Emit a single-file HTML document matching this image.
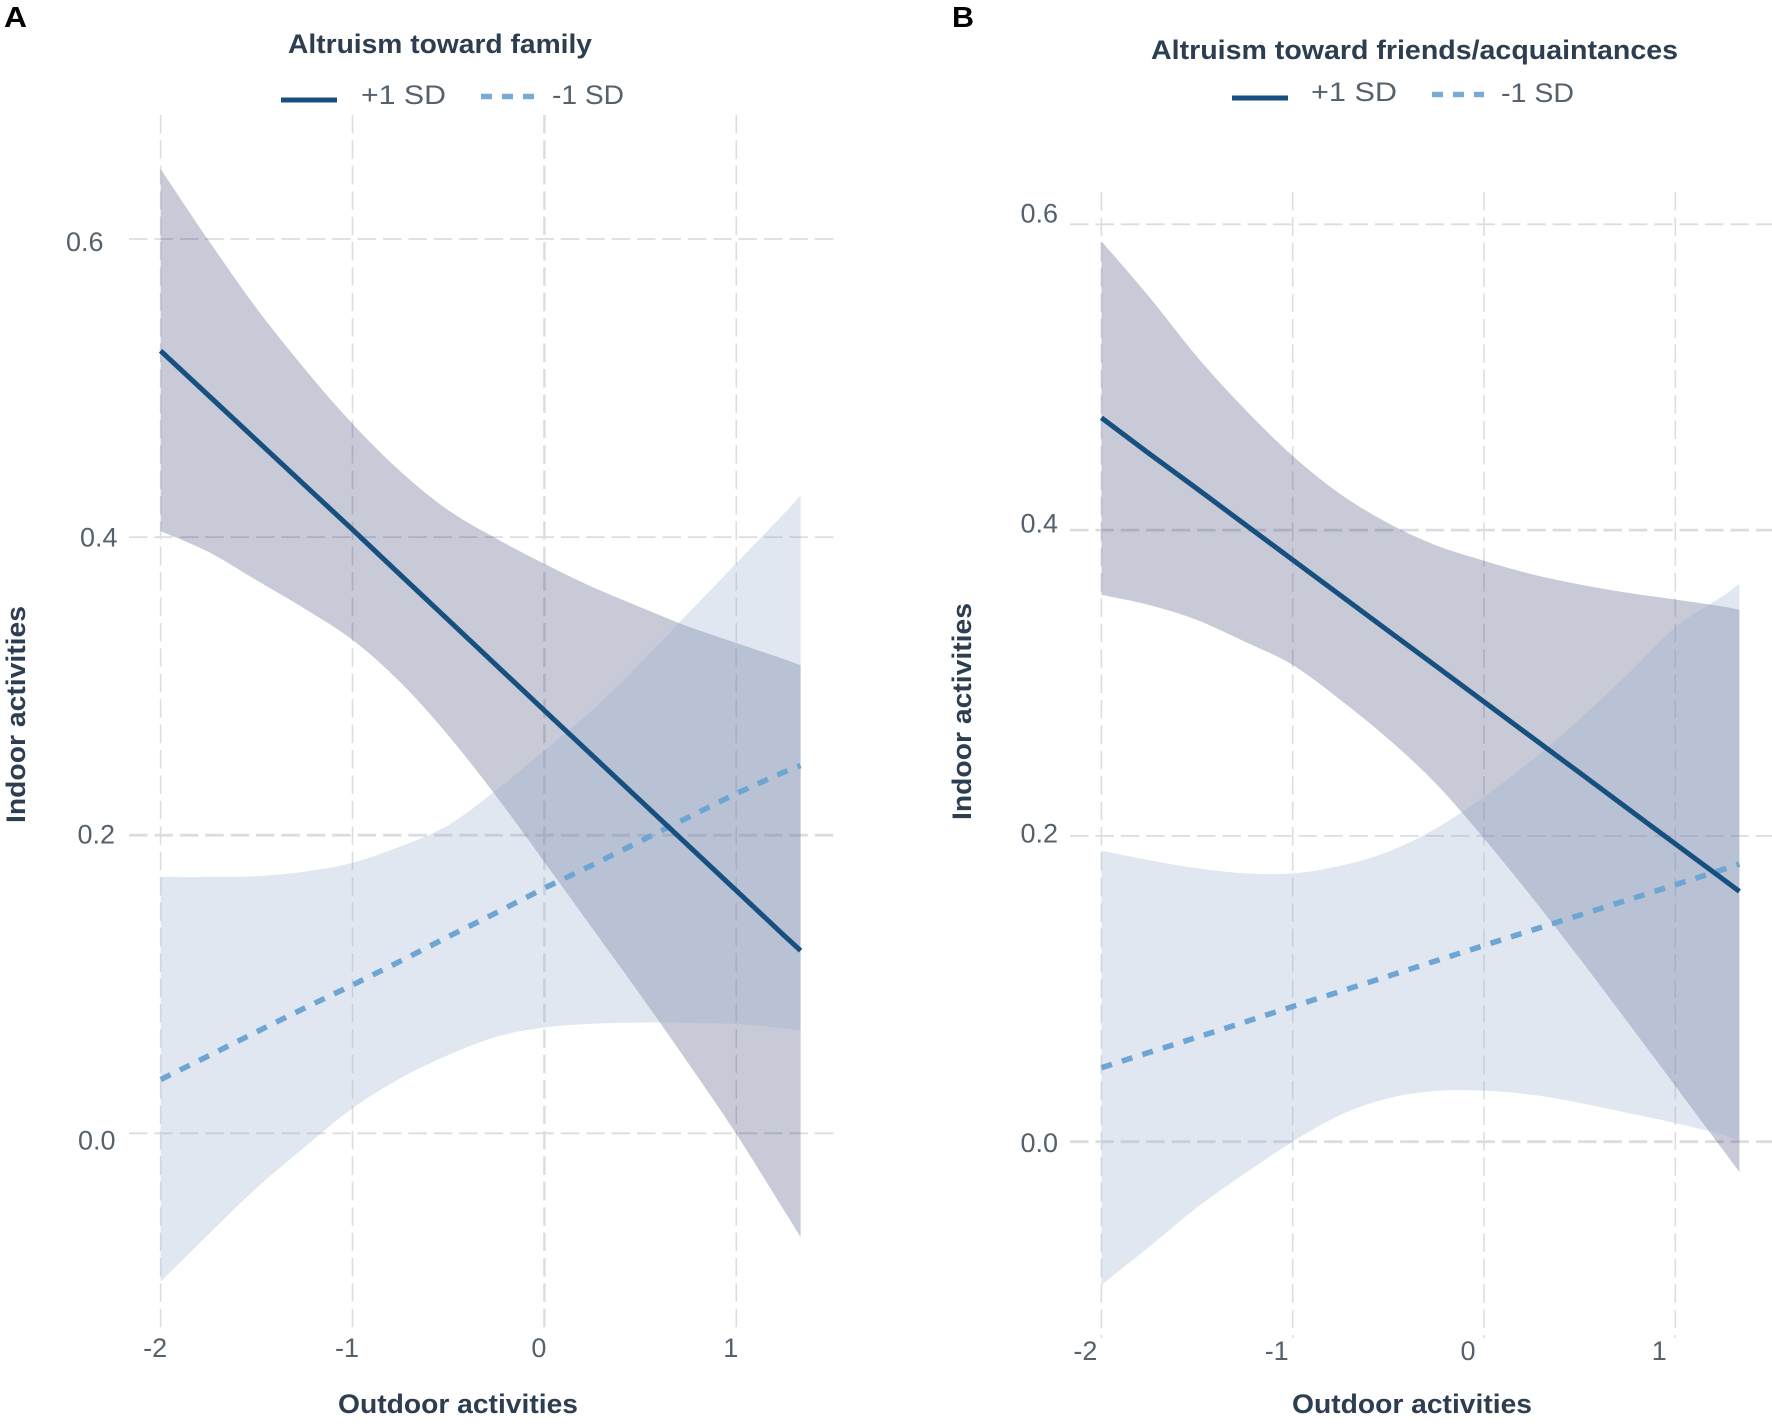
<!DOCTYPE html>
<html>
<head>
<meta charset="utf-8">
<title>Altruism moderation plots</title>
<style>
html,body{margin:0;padding:0;background:#fff;}
svg{display:block;}
text{font-family:"Liberation Sans",sans-serif;}
.title,.axis-title{font-weight:bold;fill:#2c3e50;font-size:27px;}
.tick,.legend-text{fill:#55616d;font-size:27px;}
.letter{font-weight:bold;fill:#000;font-size:29px;}
</style>
</head>
<body>
<svg id="fig" width="1772" height="1425" viewBox="0 0 1772 1425" xmlns="http://www.w3.org/2000/svg">
  <rect x="0" y="0" width="1772" height="1425" fill="#fff"/>
  <g id="panelA"></g>
  <g id="panelB"></g>

  <text class="letter" x="4" y="27" textLength="23" lengthAdjust="spacingAndGlyphs">A</text>
  <text class="letter" x="952" y="27" textLength="22" lengthAdjust="spacingAndGlyphs">B</text>

  <text class="title" x="288" y="53" textLength="304" lengthAdjust="spacingAndGlyphs">Altruism toward family</text>
  <text class="title" x="1151" y="59" textLength="527" lengthAdjust="spacingAndGlyphs">Altruism toward friends/acquaintances</text>

  <g>
    <line x1="281" y1="100" x2="337" y2="100" stroke="#17507f" stroke-width="5"/>
    <text class="legend-text" x="361" y="104" textLength="85" lengthAdjust="spacingAndGlyphs">+1 SD</text>
    <line x1="481" y1="96.5" x2="534" y2="96.5" stroke="#7aaad3" stroke-width="5.5" stroke-dasharray="11 10"/>
    <text class="legend-text" x="552" y="104" textLength="72" lengthAdjust="spacingAndGlyphs">-1 SD</text>
  </g>
  <g>
    <line x1="1232" y1="98" x2="1288" y2="98" stroke="#17507f" stroke-width="5"/>
    <text class="legend-text" x="1311" y="101" textLength="86" lengthAdjust="spacingAndGlyphs">+1 SD</text>
    <line x1="1432" y1="94.5" x2="1484" y2="94.5" stroke="#7aaad3" stroke-width="5.5" stroke-dasharray="11 10"/>
    <text class="legend-text" x="1501" y="102" textLength="73" lengthAdjust="spacingAndGlyphs">-1 SD</text>
  </g>

  <text class="axis-title" x="338" y="1413" textLength="240" lengthAdjust="spacingAndGlyphs">Outdoor activities</text>
  <text class="axis-title" x="1292" y="1413" textLength="240" lengthAdjust="spacingAndGlyphs">Outdoor activities</text>
  <text class="axis-title" transform="translate(25,823) rotate(-90)" textLength="217" lengthAdjust="spacingAndGlyphs">Indoor activities</text>
  <text class="axis-title" transform="translate(971,820) rotate(-90)" textLength="217" lengthAdjust="spacingAndGlyphs">Indoor activities</text>
</svg>
<script>
const xValues = [-2,-1.75,-1.5,-1.25,-1,-0.75,-0.5,-0.25,0,0.25,0.5,0.75,1,1.25,1.335];
const xTickValues = [-2,-1,0,1];
const yTickValues = [0.6,0.4,0.2,0.0];
const yTickLabels = ["0.6","0.4","0.2","0.0"];

const familyPlusLine  = [.525,.495,.465,.435,.405,.3746,.3443,.314,.2836,.2534,.2232,.193,.1628,.1326,.1226];
const familyPlusUpper = [.647,.599,.5535,.513,.476,.444,.418,.399,.382,.3665,.353,.340,.329,.318,.314];
const familyPlusLower = [.404,.390,.371,.352,.331,.3025,.2668,.226,.182,.1374,.0928,.047,-.0005,-.052,-.0696];
const familyMinusLine  = [.036,.052,.068,.084,.0995,.1155,.132,.148,.1645,.180,.196,.212,.228,.2425,.2467];
const familyMinusUpper = [.172,.172,.1725,.1755,.1815,.1925,.2068,.2303,.257,.284,.3155,.349,.3825,.416,.428];
const familyMinusLower = [-.0995,-.0677,-.0367,-.0093,.0168,.037,.0525,.0648,.071,.0735,.0743,.0742,.0733,.0705,.0691];

const friendsPlusLine  = [.4735,.450,.4271,.4037,.3805,.3573,.3341,.311,.2877,.2645,.2413,.218,.1948,.1716,.1637];
const friendsPlusUpper = [.589,.5525,.5134,.479,.4485,.4235,.4045,.390,.380,.3711,.3644,.359,.3546,.350,.3479];
const friendsPlusLower = [.3576,.351,.3412,.327,.3118,.2889,.2634,.234,.1983,.160,.1198,.0783,.0364,-.0055,-.0198];
const friendsMinusLine  = [.0484,.0584,.0683,.0783,.0884,.0983,.1083,.1183,.1283,.1383,.1482,.1581,.168,.178,.1816];
const friendsMinusUpper = [.1903,.1842,.1788,.1755,.1755,.1805,.1897,.205,.2256,.2496,.2764,.3057,.3364,.357,.365];
const friendsMinusLower = [-.0937,-.0687,-.043,-.0207,0,.0175,.0284,.0332,.0334,.0307,.0254,.0188,.0122,.0045,0];

const NS = 'http://www.w3.org/2000/svg';

// Smooth curve through screen points (Catmull-Rom to cubic Bezier); returns path segments after the first point.
function smoothSegments(pts) {
  let d = '';
  for (let i = 0; i < pts.length - 1; i++) {
    const p0 = pts[Math.max(i - 1, 0)];
    const p1 = pts[i];
    const p2 = pts[i + 1];
    const p3 = pts[Math.min(i + 2, pts.length - 1)];
    const c1x = p1[0] + (p2[0] - p0[0]) / 6;
    const c1y = p1[1] + (p2[1] - p0[1]) / 6;
    const c2x = p2[0] - (p3[0] - p1[0]) / 6;
    const c2y = p2[1] - (p3[1] - p1[1]) / 6;
    d += ' C' + c1x.toFixed(1) + ' ' + c1y.toFixed(1) + ' ' + c2x.toFixed(1) + ' ' + c2y.toFixed(1) + ' ' + p2[0].toFixed(1) + ' ' + p2[1].toFixed(1);
  }
  return d;
}

function drawPanel(cfg) {
  const root = document.getElementById(cfg.id);
  const sx = v => cfg.x0 + cfg.xStep * v;
  const sy = v => cfg.y0 - cfg.yScale * v;

  xTickValues.forEach(function (v) {
    const g = document.createElementNS(NS, 'line');
    
    
    g.setAttribute('x1', sx(v));
    g.setAttribute('x2', sx(v));
    g.setAttribute('y1', cfg.gridTop);
    g.setAttribute('y2', cfg.gridBottom);
    g.setAttribute('stroke', '#dcdde0');
    g.setAttribute('stroke-width', cfg.boldX.indexOf(v) >= 0 ? 2.5 : 1.6);
    g.setAttribute('stroke-dasharray', '18.5 6.9');
    root.appendChild(g);
  });
  yTickValues.forEach(function (v) {
    const g = document.createElementNS(NS, 'line');
    
    
    g.setAttribute('x1', cfg.gridLeft);
    g.setAttribute('x2', cfg.gridRight);
    g.setAttribute('y1', sy(v));
    g.setAttribute('y2', sy(v));
    g.setAttribute('stroke', '#dcdde0');
    g.setAttribute('stroke-width', cfg.boldY.indexOf(v) >= 0 ? 2.8 : 1.8);
    g.setAttribute('stroke-dasharray', '18.5 6.9');
    root.appendChild(g);
  });

  function ribbon(upper, lower, fill, name) {
    const top = xValues.map(function (x, i) { return [sx(x), sy(upper[i])]; });
    const bottom = xValues.map(function (x, i) { return [sx(x), sy(lower[i])]; }).reverse();
    const p = document.createElementNS(NS, 'path');
    
    
    p.setAttribute('d', 'M' + top[0][0].toFixed(1) + ' ' + top[0][1].toFixed(1) + smoothSegments(top) +
      ' L' + bottom[0][0].toFixed(1) + ' ' + bottom[0][1].toFixed(1) + smoothSegments(bottom) + ' Z');
    p.setAttribute('fill', fill);
    root.appendChild(p);
  }
  ribbon(cfg.plusUpper, cfg.plusLower, 'rgba(35,43,99,0.25)', 'ci-ribbon-plus-1sd');
  ribbon(cfg.minusUpper, cfg.minusLower, 'rgba(152,175,205,0.3)', 'ci-ribbon-minus-1sd');

  function seriesLine(vals, stroke, dash, name) {
    const p = document.createElementNS(NS, 'polyline');
    
    
    p.setAttribute('points', xValues.map(function (x, i) { return sx(x).toFixed(1) + ',' + sy(vals[i]).toFixed(1); }).join(' '));
    p.setAttribute('fill', 'none');
    p.setAttribute('stroke', stroke);
    p.setAttribute('stroke-width', dash ? '5.5' : '5');
    if (dash) { p.setAttribute('stroke-dasharray', dash); }
    root.appendChild(p);
  }
  seriesLine(cfg.minusLine, '#6fa5d2', '11 10.5', 'line-minus-1sd');
  seriesLine(cfg.plusLine, '#17507f', null, 'line-plus-1sd');

  xTickValues.forEach(function (v) {
    const t = document.createElementNS(NS, 'text');
    
    
    t.setAttribute('class', 'tick');
    t.setAttribute('x', sx(v) + cfg.xLabelShift);
    t.setAttribute('y', cfg.xLabelBaseline);
    t.setAttribute('text-anchor', 'middle');
    t.textContent = String(v);
    root.appendChild(t);
  });
  yTickValues.forEach(function (v, i) {
    const t = document.createElementNS(NS, 'text');
    
    
    t.setAttribute('class', 'tick');
    t.setAttribute('x', cfg.yLabelRight[i]);
    t.setAttribute('y', sy(v) + cfg.yLabelDrop[i]);
    t.setAttribute('text-anchor', 'end');
    t.textContent = yTickLabels[i];
    root.appendChild(t);
  });
}

drawPanel({
  id: 'panelA', x0: 544.4, xStep: 191.9, y0: 1133.3, yScale: 1490.5,
  gridTop: 115, gridBottom: 1332, gridLeft: 129, gridRight: 834,
  boldX: [0], boldY: [0.2],
  xLabelShift: -5.5, xLabelBaseline: 1357,
  yLabelRight: [103.5, 117.5, 115, 115.5], yLabelDrop: [12, 9.3, 8.5, 16],
  plusLine: familyPlusLine, plusUpper: familyPlusUpper, plusLower: familyPlusLower,
  minusLine: familyMinusLine, minusUpper: familyMinusUpper, minusLower: familyMinusLower
});
drawPanel({
  id: 'panelB', x0: 1484, xStep: 191.3, y0: 1141.7, yScale: 1529,
  gridTop: 192, gridBottom: 1338, gridLeft: 1070, gridRight: 1772,
  boldX: [], boldY: [0.4, 0.0],
  xLabelShift: -16, xLabelBaseline: 1360,
  yLabelRight: [1058, 1058, 1058, 1058], yLabelDrop: [-2, 2.5, 6.8, 10.5],
  plusLine: friendsPlusLine, plusUpper: friendsPlusUpper, plusLower: friendsPlusLower,
  minusLine: friendsMinusLine, minusUpper: friendsMinusUpper, minusLower: friendsMinusLower
});
</script>
</body>
</html>
